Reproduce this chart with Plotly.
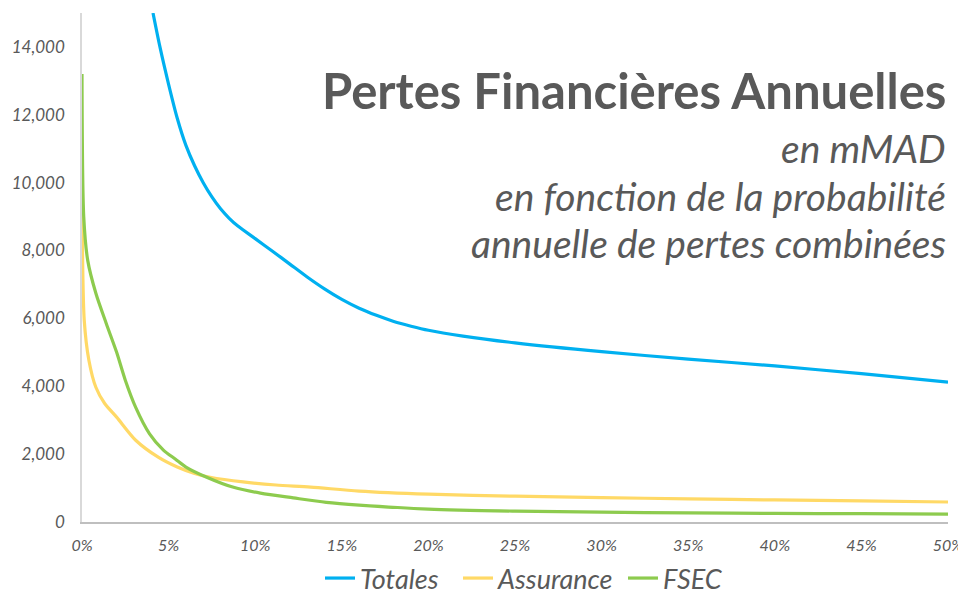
import plotly.graph_objects as go

# Probability (fraction) and losses (mMAD)
tot_x = [0.041, 0.045, 0.050, 0.055, 0.060, 0.065, 0.070, 0.075, 0.080, 0.085, 0.090, 0.100, 0.110,
         0.120, 0.130, 0.140, 0.150, 0.160, 0.170, 0.180, 0.190, 0.200, 0.220, 0.250, 0.300, 0.350,
         0.400, 0.450, 0.500]
tot_y = [15000, 14000, 12900, 11900, 11100, 10500, 10000, 9580, 9230, 8950, 8720, 8350, 7980,
         7600, 7220, 6870, 6560, 6300, 6090, 5910, 5770, 5650, 5480, 5280, 5020, 4800,
         4600, 4370, 4120]

ass_x = [0.0, 0.0013, 0.004, 0.008, 0.013, 0.020, 0.031, 0.044, 0.055, 0.065, 0.074, 0.093, 0.112,
         0.132, 0.160, 0.200, 0.250, 0.300, 0.350, 0.400, 0.450, 0.500]
ass_y = [9800, 5940, 4760, 3970, 3500, 3090, 2410, 1910, 1620, 1430, 1320, 1180, 1090,
         1030, 910, 820, 760, 720, 680, 650, 620, 590]

fsec_x = [0.0, 0.001, 0.0033, 0.008, 0.014, 0.020, 0.025, 0.031, 0.039, 0.047, 0.054, 0.060,
          0.072, 0.087, 0.103, 0.122, 0.141, 0.160, 0.200, 0.250, 0.300, 0.350, 0.400, 0.450, 0.500]
fsec_y = [13200, 9000, 7710, 6740, 5850, 5000, 4180, 3380, 2600, 2120, 1850, 1620,
          1320, 1030, 850, 710, 580, 500, 380, 320, 290, 270, 255, 245, 235]

series_names = ["Totales", "Assurance", "FSEC"]
colors = ["#00B0F0", "#FFD966", "#8DCB4E"]

title_text = "Pertes Financières Annuelles"
subtitle_lines = ["en mMAD", "en fonction de la probabilité", "annuelle de pertes combinées"]

FONT = "Lato"
GRAY = "#595959"
FIG_W, FIG_H = 958, 595   # page body has an 8px margin

legend_ids = ["legend", "legend2", "legend3"]
legend_px = [320, 458, 623]   # page x of each legend entry

fig = go.Figure()
for name, xs, ys, c, lg in zip(series_names, [tot_x, ass_x, fsec_x], [tot_y, ass_y, fsec_y],
                               colors, legend_ids):
    fig.add_trace(go.Scatter(x=xs, y=ys, name=name, mode="lines", legend=lg,
                             line=dict(color=c, width=3.2, shape="spline", smoothing=0.8)))

legend_common = dict(orientation="h", xanchor="left", xref="container",
                     y=0.0, yanchor="bottom", yref="container",
                     font=dict(size=27, family=FONT, color=GRAY, style="italic"),
                     bgcolor="rgba(0,0,0,0)")

fig.update_layout(
    width=FIG_W, height=FIG_H,
    margin=dict(l=74, r=18, t=5, b=81),
    plot_bgcolor="white", paper_bgcolor="white",
    font=dict(family=FONT, color=GRAY),
    showlegend=True,
    xaxis=dict(range=[0, 0.5], tickformat=".0%", dtick=0.05, showgrid=False, zeroline=False,
               showline=True, linecolor="#BFBFBF", linewidth=1.5, ticks="", automargin=False,
               tickfont=dict(size=16, family=FONT, color=GRAY, style="italic"), ticklabelstandoff=8),
    yaxis=dict(range=[0, 15000], tickformat=",", dtick=2000, showgrid=False, zeroline=False,
               showline=True, linecolor="#D9D9D9", linewidth=1.5, ticks="", automargin=False,
               tickfont=dict(size=17, family=FONT, color=GRAY, style="italic"), ticklabelstandoff=12),
)
for lg, px in zip(legend_ids, legend_px):
    fig.update_layout({lg: dict(legend_common, x=(px - 8) / FIG_W)})

fig.add_annotation(text="<b>" + title_text + "</b>", xref="paper", yref="paper",
                   x=1.0, y=0.849, xanchor="right", yanchor="middle", showarrow=False,
                   font=dict(size=49, family=FONT, color=GRAY))
ys_sub = [0.735, 0.640, 0.548]
for t, yy in zip(subtitle_lines, ys_sub):
    fig.add_annotation(text="<i>" + t + "</i>", xref="paper", yref="paper",
                       x=1.0, y=yy, xanchor="right", yanchor="middle", showarrow=False,
                       font=dict(size=39, family=FONT, color=GRAY))

fig.write_html("out.html")
